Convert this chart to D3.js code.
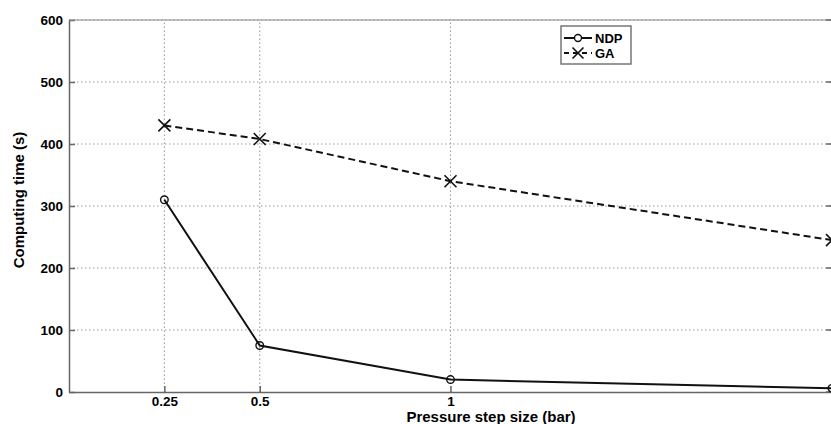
<!DOCTYPE html>
<html>
<head>
<meta charset="utf-8">
<script src="https://cdn.jsdelivr.net/npm/d3@7"></script>
<style>
  body { margin: 0; background: #fff; }
  text { font-family: "Liberation Sans", Arial, sans-serif; font-weight: bold; }
</style>
</head>
<body>
<script>
// values
const steps = [0.25, 0.5, 1, 2]
const ndp = [310, 75, 20, 6]
const ga = [430, 408, 340, 245]
const yTicks = [0, 100, 200, 300, 400, 500, 600]
const xTicks = [0.25, 0.5, 1, 2]
const xTickLabels = ["0.25", "0.5", "1", ""]   // the "2" falls off the cropped edge

const width = 831, height = 424
const margin = {top: 20, right: -1, bottom: 32, left: 69}

const svg = d3.select("body").append("svg")
    .attr("width", width)
    .attr("height", height)

const x = d3.scaleLinear()
    .domain([0, 2])
    .range([margin.left, width - margin.right])

const y = d3.scaleLinear()
    .domain([0, 600])
    .range([height - margin.bottom, margin.top])

// grid
svg.append("g")
    .attr("stroke", "#999")
    .attr("stroke-dasharray", "1.5,2.5")
  .selectAll("line.gy")
  .data(yTicks.slice(1))
  .join("line")
    .attr("x1", x(0)).attr("x2", x(2))
    .attr("y1", d => y(d)).attr("y2", d => y(d))

svg.append("g")
    .attr("stroke", "#999")
    .attr("stroke-dasharray", "1.5,2.5")
  .selectAll("line")
  .data(xTicks)
  .join("line")
    .attr("x1", d => x(d)).attr("x2", d => x(d))
    .attr("y1", y(0)).attr("y2", y(600))

// axes with inward ticks
const yAxis = g => g
    .attr("transform", `translate(${x(0)},0)`)
    .call(d3.axisLeft(y).tickValues(yTicks).tickSizeInner(-6).tickSizeOuter(0).tickPadding(6))
    .call(g => g.selectAll("text").attr("font-size", 13.5).attr("fill", "#000"))
    .call(g => g.selectAll("line, path").attr("stroke", "#666").attr("stroke-width", 1.5))

const xAxis = g => g
    .attr("transform", `translate(0,${y(0)})`)
    .call(d3.axisBottom(x).tickValues(xTicks).tickFormat((d, i) => xTickLabels[i]).tickSizeInner(-6).tickSizeOuter(0).tickPadding(4))
    .call(g => g.selectAll("text").attr("font-size", 13.5).attr("fill", "#000"))
    .call(g => g.selectAll("line, path").attr("stroke", "#666").attr("stroke-width", 1.5))

svg.append("g").call(yAxis)
svg.append("g").call(xAxis)

// top and right box edges
svg.append("line")
    .attr("x1", x(0)).attr("x2", x(2))
    .attr("y1", y(600)).attr("y2", y(600))
    .attr("stroke", "#888").attr("stroke-width", 1)

svg.append("g")
    .attr("stroke", "#666")
    .attr("stroke-width", 1.5)
  .selectAll("line")
  .data(yTicks)
  .join("line")
    .attr("x1", x(2) - 6).attr("x2", x(2))
    .attr("y1", d => y(d)).attr("y2", d => y(d))

// series
const line = d3.line()
    .x((d, i) => x(steps[i]))
    .y(d => y(d))

svg.append("path")
    .datum(ga)
    .attr("fill", "none")
    .attr("stroke", "#111")
    .attr("stroke-width", 2)
    .attr("stroke-dasharray", "7,4")
    .attr("d", line)

svg.append("path")
    .datum(ndp)
    .attr("fill", "none")
    .attr("stroke", "#111")
    .attr("stroke-width", 2)
    .attr("d", line)

const cross = (sel, s) => sel
    .attr("d", `M${-s},${-s}L${s},${s}M${-s},${s}L${s},${-s}`)
    .attr("stroke", "#111")
    .attr("stroke-width", 1.6)
    .attr("fill", "none")

svg.append("g")
  .selectAll("path")
  .data(ga)
  .join("path")
    .attr("transform", (d, i) => `translate(${x(steps[i])},${y(d)})`)
    .call(cross, 6)

svg.append("g")
  .selectAll("circle")
  .data(ndp)
  .join("circle")
    .attr("cx", (d, i) => x(steps[i]))
    .attr("cy", d => y(d))
    .attr("r", 3.8)
    .attr("fill", "none")
    .attr("stroke", "#111")
    .attr("stroke-width", 1.4)

// legend
const legend = svg.append("g").attr("transform", "translate(561,26)")
legend.append("rect")
    .attr("width", 70).attr("height", 38)
    .attr("fill", "#fff")
    .attr("stroke", "#777")
    .attr("stroke-width", 1.5)

legend.append("line")
    .attr("x1", 3).attr("x2", 31).attr("y1", 12).attr("y2", 12)
    .attr("stroke", "#111").attr("stroke-width", 2)
legend.append("circle")
    .attr("cx", 17).attr("cy", 12).attr("r", 3.5)
    .attr("fill", "#fff").attr("stroke", "#111").attr("stroke-width", 1.4)
legend.append("text")
    .attr("x", 34).attr("y", 16.5)
    .attr("font-size", 13)
    .text("NDP")

legend.append("line")
    .attr("x1", 3).attr("x2", 31).attr("y1", 27).attr("y2", 27)
    .attr("stroke", "#111").attr("stroke-width", 2)
    .attr("stroke-dasharray", "5,4")
legend.append("path")
    .attr("transform", "translate(17,27)")
    .call(cross, 5.5)
legend.append("text")
    .attr("x", 34).attr("y", 31.5)
    .attr("font-size", 13)
    .text("GA")

// axis titles
svg.append("text")
    .attr("x", 491)
    .attr("y", 422)
    .attr("text-anchor", "middle")
    .attr("font-size", 15)
    .text("Pressure step size (bar)")

svg.append("text")
    .attr("transform", `translate(24,${(y(0) + y(600)) / 2 - 6}) rotate(-90)`)
    .attr("text-anchor", "middle")
    .attr("font-size", 15)
    .text("Computing time (s)")
</script>
</body>
</html>
